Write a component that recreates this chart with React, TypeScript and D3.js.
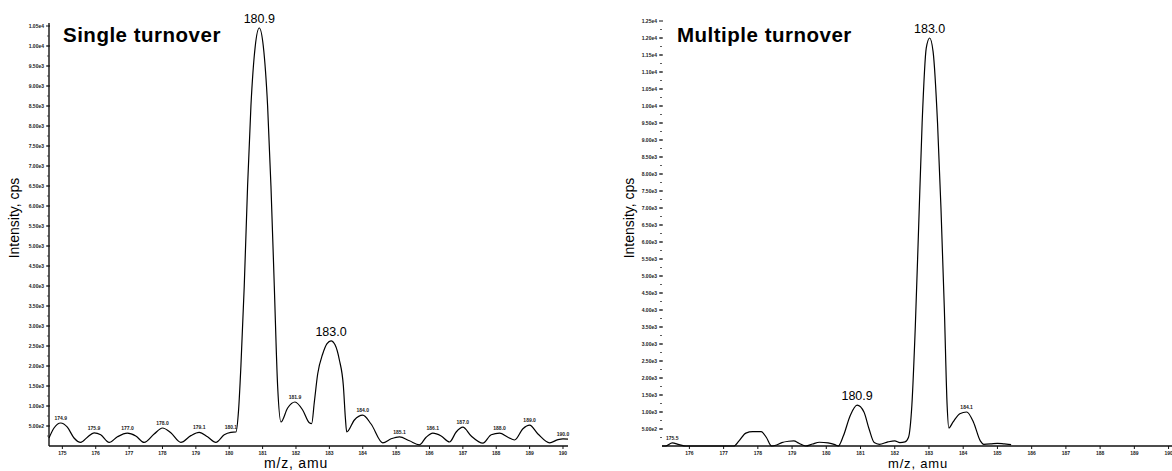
import React from 'react';
import * as d3 from 'd3';

// ---------- Single turnover (left panel) ----------
const singleMz = [
  174.6, 174.75, 174.95, 175.15, 175.35, 175.55, 175.75, 175.95, 176.15, 176.4,
  176.65, 176.95, 177.2, 177.45, 177.75, 178.0, 178.25, 178.55, 178.85, 179.1,
  179.35, 179.6, 179.85, 180.05, 180.2, 180.28, 180.35, 180.45, 180.55, 180.65,
  180.78, 180.9, 181.02, 181.15, 181.25, 181.35, 181.45, 181.55, 181.75, 181.97,
  182.2, 182.4, 182.47, 182.55, 182.65, 182.8, 182.93, 183.05, 183.17, 183.3,
  183.42, 183.48, 183.52, 183.75, 184.0, 184.25, 184.6, 184.85, 185.1, 185.4,
  185.7, 185.9, 186.1, 186.35, 186.6, 186.8, 187.0, 187.25, 187.6, 187.85,
  188.1, 188.35, 188.55, 188.8, 189.0, 189.25, 189.6, 189.85, 190.0, 190.15,
];
const singleIntensity = [
  200, 450, 575, 470, 200, 90, 220, 330, 280, 90,
  230, 320, 250, 90, 300, 450, 330, 90, 260, 340,
  230, 90, 280, 340, 350, 900, 2000, 4000, 6500, 8500,
  10000, 10450, 10000, 8500, 6500, 4000, 1500, 600, 950, 1100,
  900, 580, 560, 1100, 1800, 2300, 2560, 2630, 2530, 2150,
  1500, 700, 350, 650, 770, 550, 80, 180, 230, 130,
  30, 220, 320, 250, 100, 350, 470, 250, 70, 280,
  320, 220, 150, 430, 520, 300, 80, 160, 180, 170,
];
const singleMainLabelMz = [180.9, 183.05];
const singleMainLabelText = ['180.9', '183.0'];
const singleMinorLabelMz = [174.95, 175.95, 176.95, 178.0, 179.1, 180.05, 181.97, 184.0, 185.1, 186.1, 187.0, 188.1, 189.0, 190.0];
const singleMinorLabelText = ['174.9', '175.9', '177.0', '178.0', '179.1', '180.1', '181.9', '184.0', '185.1', '186.1', '187.0', '188.0', '189.0', '190.0'];
const singleXTicks = d3.range(175, 191, 1);
const singleYTicks = d3.range(500, 10501, 500);

// ---------- Multiple turnover (right panel) ----------
const multiMz = [
  175.2, 175.3, 175.5, 175.7, 175.9, 177.3, 177.45, 177.65, 177.85, 178.1,
  178.25, 178.4, 178.55, 178.7, 178.9, 179.05, 179.2, 179.4, 179.6, 179.8,
  180.05, 180.25, 180.35, 180.5, 180.7, 180.9, 181.1, 181.25, 181.4, 181.55,
  181.8, 182.0, 182.15, 182.3, 182.4, 182.5, 182.6, 182.7, 182.8, 182.92,
  183.02, 183.12, 183.25, 183.35, 183.45, 183.53, 183.58, 183.7, 183.9, 184.1,
  184.3, 184.5, 184.6, 184.8, 185.0, 185.2, 185.4,
];
const multiIntensity = [
  0, 0, 90, 40, 0, 0, 150, 380, 420, 420,
  250, 0, 30, 100, 140, 150, 80, 0, 60, 110,
  90, 40, 0, 300, 900, 1200, 1000, 500, 100, 50,
  120, 150, 100, 120, 250, 1200, 3500, 6500, 9500, 11700,
  12000, 11600, 9500, 7000, 4000, 1200, 530, 700, 950, 1000,
  700, 150, 50, 60, 80, 60, 40,
];
const multiMainLabelMz = [180.9, 183.02];
const multiMainLabelText = ['180.9', '183.0'];
const multiMinorLabelMz = [175.5, 184.1];
const multiMinorLabelText = ['175.5', '184.1'];
const multiXTicks = d3.range(176, 191, 1);
const multiYTicks = d3.range(500, 12501, 500);

const FONT = '"Liberation Sans", Arial, Helvetica, sans-serif';

function fmtTick(v: number) {
  return d3.format('.2e')(v).replace('e+', 'e');
}

type PanelProps = {
  title: string;
  mz: number[];
  intensity: number[];
  mainLabelMz: number[];
  mainLabelText: string[];
  minorLabelMz: number[];
  minorLabelText: string[];
  xTicks: number[];
  yTicks: number[];
  xDomain: [number, number];
  xRange: [number, number];
  yDomain: [number, number];
  yRange: [number, number];
  showYAxisLine: boolean;
  titleX: number;
  yLabelX: number;
  xLabelX: number;
  xLabelSize: number;
  xEnd: number;
};

function Panel(p: PanelProps) {
  const x = d3.scaleLinear().domain(p.xDomain).range(p.xRange);
  const y = d3.scaleLinear().domain(p.yDomain).range(p.yRange);
  const pts = p.mz.map((m, i) => [m, p.intensity[i]] as [number, number]);
  const line = d3
    .line<[number, number]>()
    .x((d) => x(d[0]))
    .y((d) => y(d[1]))
    .curve(d3.curveMonotoneX);
  const valueAt = (m: number) => {
    let best = 0;
    let bd = Infinity;
    p.mz.forEach((v, i) => {
      const dd = Math.abs(v - m);
      if (dd < bd) {
        bd = dd;
        best = p.intensity[i];
      }
    });
    return best;
  };
  const x0 = p.xRange[0];
  const base = p.yRange[0];
  const step = p.yTicks[1] - p.yTicks[0];
  const minor = d3.range(p.yTicks[0] - step / 2, p.yDomain[1], step / 2).filter((v) => v > 0);
  return (
    <g>
      {/* axes */}
      <line x1={x0} x2={p.xEnd} y1={base} y2={base} stroke="#111" strokeWidth={1.6} />
      {p.showYAxisLine && (
        <line x1={x0} x2={x0} y1={p.yRange[1] - 3} y2={base} stroke="#111" strokeWidth={1.4} />
      )}
      {minor.map((v) => (
        <line key={'mn' + v} x1={x0 - 2} x2={x0} y1={y(v)} y2={y(v)} stroke="#333" strokeWidth={0.8} />
      ))}
      {p.yTicks.map((v) => (
        <g key={'yt' + v}>
          <line x1={x0 - 3} x2={x0 + 1} y1={y(v)} y2={y(v)} stroke="#111" strokeWidth={1} />
          <text
            x={x0 - 5}
            y={y(v) + 2}
            textAnchor="end"
            fontSize={5}
            fontWeight="bold"
            fontFamily={FONT}
            fill="#222"
          >
            {fmtTick(v)}
          </text>
        </g>
      ))}
      {p.xTicks.map((v) => (
        <g key={'xt' + v}>
          <line x1={x(v)} x2={x(v)} y1={base} y2={base + 3} stroke="#111" strokeWidth={1} />
          <text
            x={x(v)}
            y={base + 8.5}
            textAnchor="middle"
            fontSize={5}
            fontWeight="bold"
            fontFamily={FONT}
            fill="#222"
          >
            {v}
          </text>
        </g>
      ))}
      {/* spectrum */}
      <path d={line(pts) || ''} fill="none" stroke="#000" strokeWidth={1.2} />
      {/* peak labels */}
      {p.mainLabelMz.map((m, i) => (
        <text
          key={'ml' + i}
          x={x(m)}
          y={y(valueAt(m)) - 5}
          textAnchor="middle"
          fontSize={12.5}
          fontFamily={FONT}
          fill="#000"
        >
          {p.mainLabelText[i]}
        </text>
      ))}
      {p.minorLabelMz.map((m, i) => (
        <text
          key={'sl' + i}
          x={x(m)}
          y={y(valueAt(m)) - 3}
          textAnchor="middle"
          fontSize={5}
          fontWeight="bold"
          fontFamily={FONT}
          fill="#222"
        >
          {p.minorLabelText[i]}
        </text>
      ))}
      {/* titles */}
      <text
        x={p.titleX}
        y={42}
        fontSize={20.5}
        fontWeight="bold"
        letterSpacing={0.5}
        fontFamily={FONT}
        fill="#000"
      >
        {p.title}
      </text>
      <text
        transform={`translate(${p.yLabelX},218) rotate(-90)`}
        textAnchor="middle"
        fontSize={14}
        fontFamily={FONT}
        fill="#000"
      >
        Intensity, cps
      </text>
      <text
        x={p.xLabelX}
        y={467.5}
        textAnchor="middle"
        fontSize={p.xLabelSize}
        letterSpacing={0.8}
        fontFamily={FONT}
        fill="#000"
      >
        m/z, amu
      </text>
    </g>
  );
}

export default function App() {
  return (
    <svg
      width={1172}
      height={471}
      style={{ position: 'absolute', left: 0, top: 0, background: '#fff' }}
    >
      <rect width={1172} height={471} fill="#fff" />
      <Panel
        title="Single turnover"
        mz={singleMz}
        intensity={singleIntensity}
        mainLabelMz={singleMainLabelMz}
        mainLabelText={singleMainLabelText}
        minorLabelMz={singleMinorLabelMz}
        minorLabelText={singleMinorLabelText}
        xTicks={singleXTicks}
        yTicks={singleYTicks}
        xDomain={[174.6, 190.15]}
        xRange={[49, 568]}
        yDomain={[0, 10500]}
        yRange={[446, 26]}
        showYAxisLine={true}
        titleX={63}
        yLabelX={19}
        xLabelX={296}
        xLabelSize={14}
        xEnd={568}
      />
      <Panel
        title="Multiple turnover"
        mz={multiMz}
        intensity={multiIntensity}
        mainLabelMz={multiMainLabelMz}
        mainLabelText={multiMainLabelText}
        minorLabelMz={multiMinorLabelMz}
        minorLabelText={multiMinorLabelText}
        xTicks={multiXTicks}
        yTicks={multiYTicks}
        xDomain={[175.2, 190.1]}
        xRange={[662, 1172]}
        yDomain={[0, 12500]}
        yRange={[446, 21]}
        showYAxisLine={false}
        titleX={677}
        yLabelX={634}
        xLabelX={918}
        xLabelSize={13}
        xEnd={1172}
      />
    </svg>
  );
}
